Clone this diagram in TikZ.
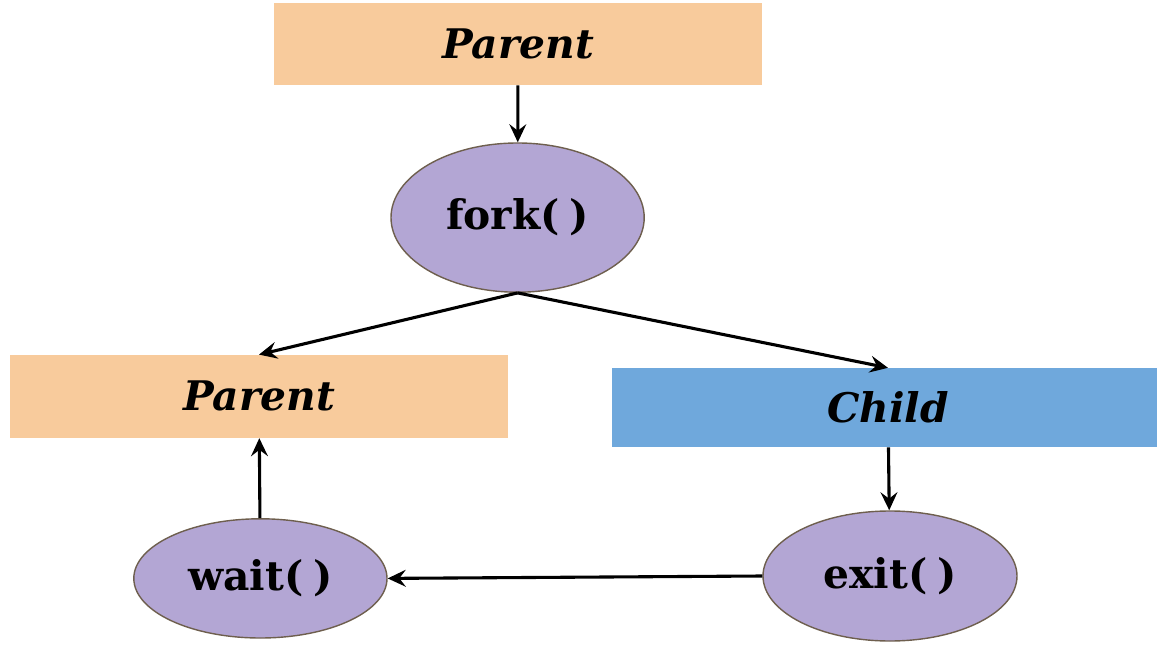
\documentclass[tikz,border=0pt]{standalone}
\usepackage{fontspec}
\setmainfont{DejaVu Serif}
\usetikzlibrary{shapes.geometric,arrows.meta}

\definecolor{parentorange}{HTML}{F8CB9C}
\definecolor{childblue}{HTML}{6FA8DC}
\definecolor{callpurple}{HTML}{B3A6D4}
\definecolor{callborder}{HTML}{6E5F4E}

\begin{document}
\begin{tikzpicture}[>={Stealth[length=4.5mm,width=4.2mm,inset=1.6mm]}]

    \useasboundingbox (0,0) rectangle (28.925,16.1);

    \begin{scope}[every node/.style={rectangle,inner sep=0pt,font=\fontsize{29}{35}\selectfont\bfseries\itshape}]
        \node[fill=parentorange,minimum width=12.2cm,minimum height=2.05cm] (ptop) at (12.95,15.0) {Parent};
        \node[fill=parentorange,minimum width=12.45cm,minimum height=2.075cm] (pleft) at (6.475,6.19) {Parent};
        \node[fill=childblue,minimum width=13.8cm,minimum height=1.975cm] (child) at (22.2,5.91) {Child};
    \end{scope}

    \begin{scope}[every node/.style={ellipse,draw=callborder,line width=1pt,fill=callpurple,inner sep=0pt,font=\fontsize{29}{35}\selectfont\bfseries}]
        \node[minimum width=6.33cm,minimum height=3.73cm] (fork) at (12.94,10.66) {fork(\kern7pt)};
        \node[minimum width=6.33cm,minimum height=2.98cm] (wait) at (6.51,1.64) {wait(\kern7pt)};
        \node[minimum width=6.35cm,minimum height=3.25cm] (exit) at (22.25,1.7) {exit(\kern7pt)};
    \end{scope}

    \begin{scope}[every edge/.style={draw=black,line width=2.2pt}]
        \path [->] (ptop) edge (fork);
        \path [->] (fork.south) edge (pleft.north);
        \path [->] (fork.south) edge (child.north);
        \path [->] (child) edge (exit);
        \path [->] (exit.west) edge (wait.east);
        \path [->] (wait) edge (pleft);
    \end{scope}

\end{tikzpicture}
\end{document}
